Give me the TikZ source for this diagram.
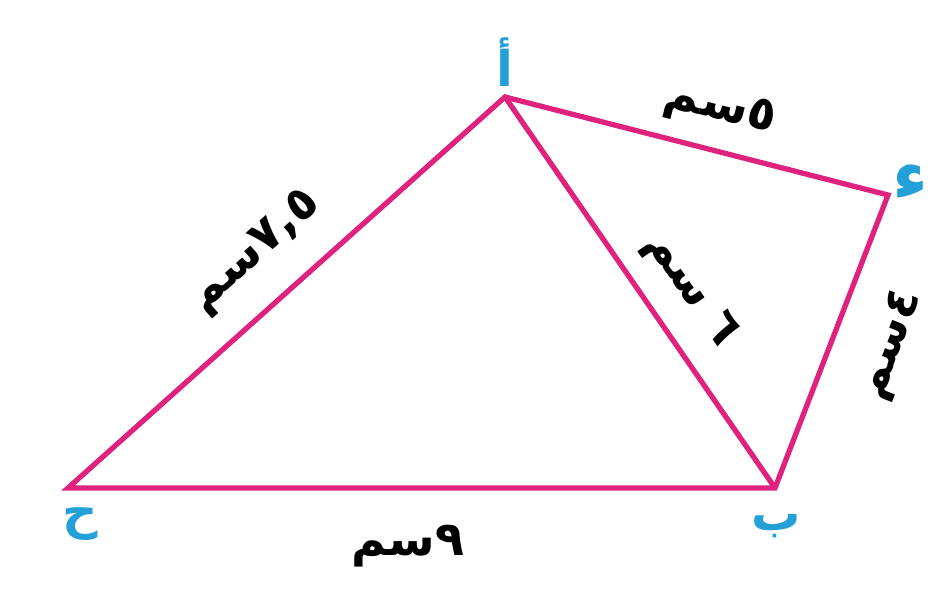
\documentclass[tikz,border=0pt]{standalone}
\usepackage{fontspec}
\usepackage{tikz}
\usetikzlibrary{positioning,calc}
\TeXXeTstate=1
\newfontfamily\arabicfont[Script=Arabic]{DejaVu Sans}
\definecolor{edgepink}{RGB}{222,34,125}
\definecolor{vertexblue}{RGB}{35,160,215}

\begin{document}
\begin{tikzpicture}[x=0.02cm,y=-0.02cm,
 edge/.style={draw=edgepink,line width=3pt,line join=miter},
 vertexlbl/.style={text=vertexblue,font=\arabicfont\bfseries\fontsize{28}{32}\selectfont,inner sep=0pt},
 sidelbl/.style={font=\arabicfont\bfseries\fontsize{27}{32}\selectfont,inner sep=1pt}]
\useasboundingbox (0,0) rectangle (930,594);
\coordinate (A) at (505,97);
\coordinate (D) at (888,195);
\coordinate (B) at (775,488);
\coordinate (C) at (68,488);
% outline and the diagonal
\draw[edge] (A)--(D)--(B)--(C)--cycle;
\draw[edge] (A)--(B);
% vertex letters
\node[vertexlbl] (lA) at (505,62) {\beginR أ\endR};
\node[vertexlbl,font=\arabicfont\bfseries\fontsize{40}{44}\selectfont] (lD) at (910,182) {\beginR ء\endR};
\node[vertexlbl] (lB) at (776,526) {\beginR ب\endR};
\node[vertexlbl] (lC) at (80,524) {\beginR ح\endR};
% side lengths
\node[sidelbl,rotate=-14] (sAD) at (720,110) {\beginR ٥سم\endR};
\node[sidelbl,rotate=41.8] (sAC) at (256,252) {\beginR ٧,٥سم\endR};
\node[sidelbl,rotate=-55.4] (sAB) at (690,290) {\beginR ٦ سم\endR};
\node[sidelbl,rotate=68.9] (sDB) at (892,345) {\beginR ٤سم\endR};
\node[sidelbl] (sCB) at (408,546) {\beginR ٩سم\endR};
\end{tikzpicture}
\end{document}
